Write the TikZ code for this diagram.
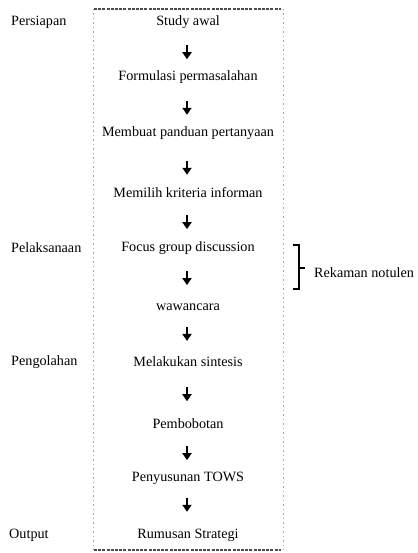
\documentclass[tikz,border=0pt]{standalone}
\usepackage{fontspec}
\setmainfont{Liberation Serif}
\usetikzlibrary{arrows.meta,calc}
\begin{document}
\begin{tikzpicture}[x=1pt,y=-1pt,
  txt/.style={font=\fontsize{14.2}{16}\selectfont, inner sep=1pt},
  lbl/.style={txt, anchor=west},
  arr/.style={line width=2.8pt,-{Triangle[width=9pt,length=7pt]}},
  frameline/.style={line width=1.6pt, dash pattern=on 3pt off 1.2pt, black!70},
  sideline/.style={line width=0.8pt, dash pattern=on 1.5pt off 3pt, black!35},
  bracestyle/.style={line width=2.6pt}
]
\useasboundingbox (0,0) rectangle (417,553);
% frame
\draw[frameline] (94,9) -- (281,9);
\draw[frameline] (94,550) -- (281,550);
\draw[sideline] (93,9) -- (93,550);
\draw[sideline] (283,9) -- (283,550);
% steps
\node[txt] (s1) at (188,22) {Study awal};
\node[txt] (s2) at (188,77) {Formulasi permasalahan};
\node[txt] (s3) at (188,133) {Membuat panduan pertanyaan};
\node[txt] (s4) at (188,193) {Memilih kriteria informan};
\node[txt] (s5) at (188,248) {Focus group discussion};
\node[txt] (s6) at (188,307) {wawancara};
\node[txt] (s7) at (188,362) {Melakukan sintesis};
\node[txt] (s8) at (188,424) {Pembobotan};
\node[txt] (s9) at (188,478) {Penyusunan TOWS};
\node[txt] (s10) at (188,535) {Rumusan Strategi};
% arrows
\foreach \a/\b/\f in {s1/s2/0.55,s2/s3/0.55,s3/s4/0.58,s4/s5/0.53,s5/s6/0.51,s6/s7/0.49,s7/s8/0.52,s8/s9/0.54,s9/s10/0.47}{
  \draw[arr] ($(\a.center)!\f!(\b.center)+(-1,-7)$) -- ($(\a.center)!\f!(\b.center)+(-1,7)$);
}
% phase labels
\node[lbl] (p1) at (10,22) {Persiapan};
\node[lbl] (p2) at (10,248) {Pelaksanaan};
\node[lbl] (p3) at (10,362) {Pengolahan};
\node[lbl] (p4) at (8,535) {Output};
% brace
\draw[bracestyle] (293,245) -- (299,245) -- (299,289) -- (293,289);
\draw[bracestyle] (299,268) -- (305,268);
\node[lbl] (rk) at (313,273) {Rekaman notulen};
\end{tikzpicture}
\end{document}
